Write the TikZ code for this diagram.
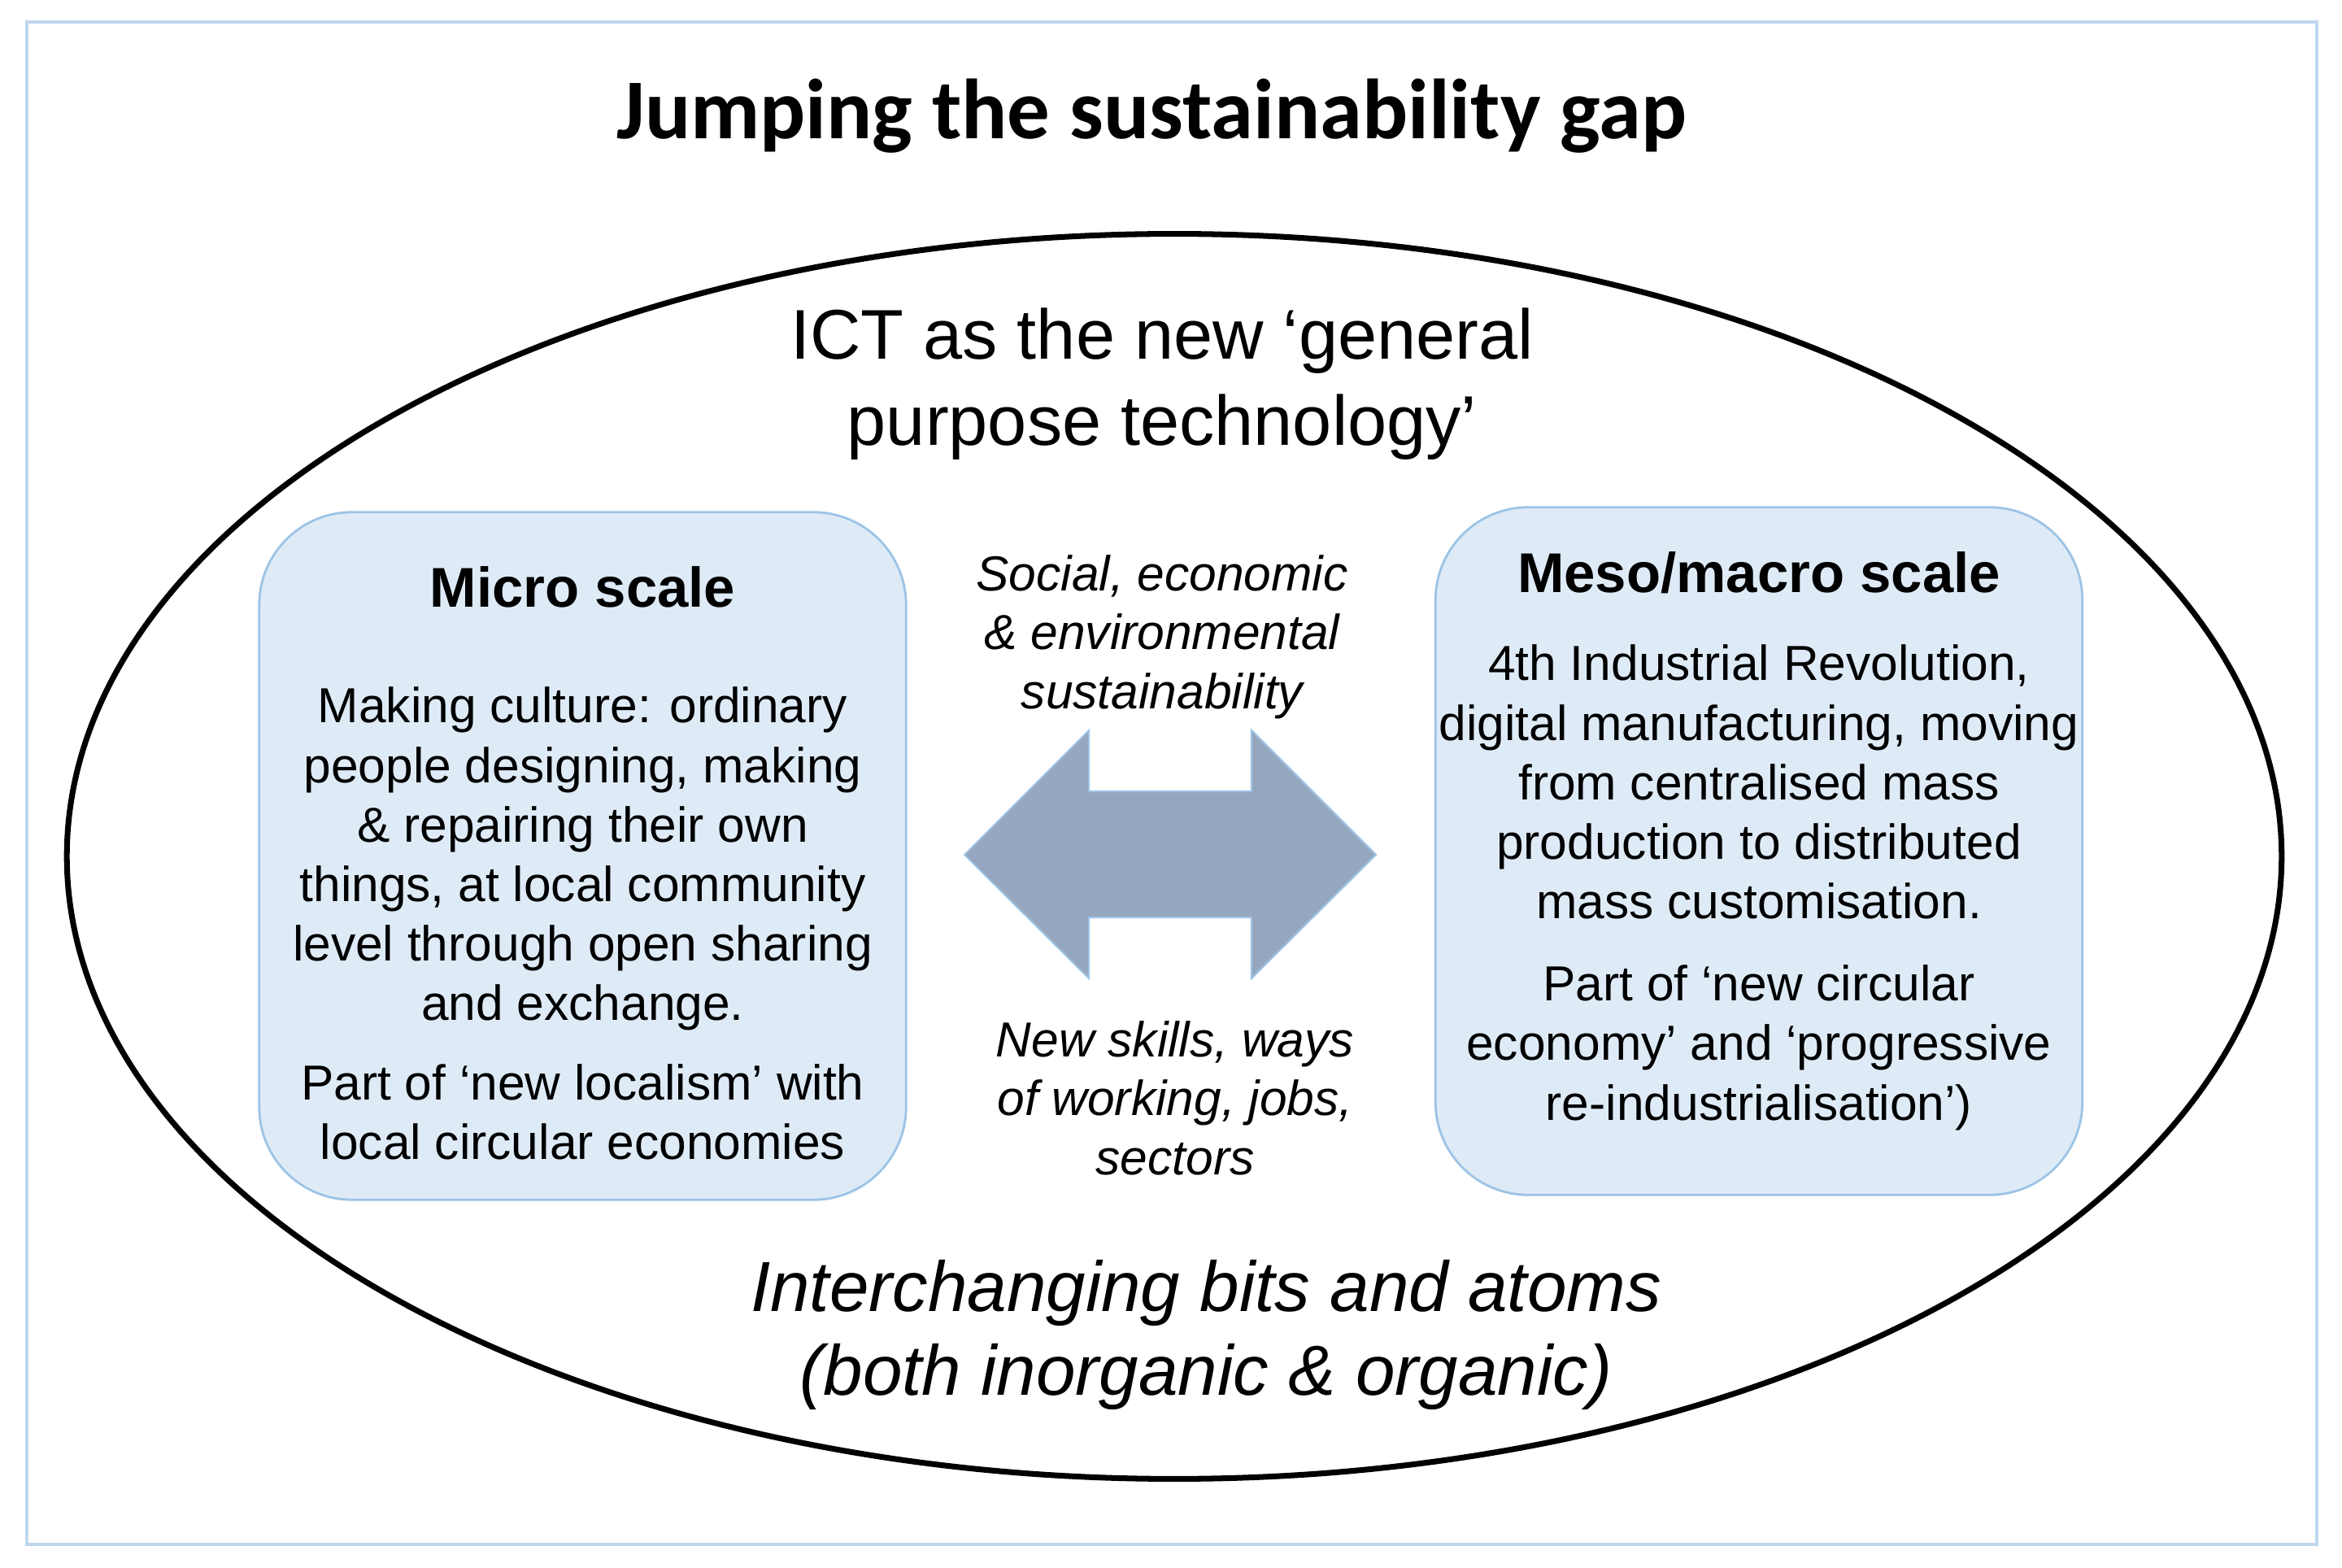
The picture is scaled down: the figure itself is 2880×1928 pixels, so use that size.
\documentclass[tikz,border=0pt]{standalone}
\usepackage{fontspec}
\setmainfont{Liberation Sans}
\newfontfamily\titlefont{Carlito}
\usetikzlibrary{calc}

\definecolor{framecol}{RGB}{189,215,238}
\definecolor{boxfill}{RGB}{222,235,247}
\definecolor{boxline}{RGB}{157,195,230}
\definecolor{arrowfill}{RGB}{149,167,190}

\begin{document}
\begin{tikzpicture}[x=0.01cm, y=-0.01cm,
  scalebox/.style={draw=boxline, fill=boxfill, line width=0.8pt, rounded corners=1.14cm,
    minimum width=7.95cm, minimum height=8.45cm, inner sep=0pt},
  boxhead/.style={font=\fontsize{19.6}{23}\selectfont\bfseries, anchor=base, inner sep=0pt},
  body/.style={font=\fontsize{17.2}{20.8}\selectfont, align=center, anchor=north, inner sep=0pt},
  note/.style={body, font=\fontsize{17.2}{20.6}\selectfont\itshape}]
\useasboundingbox (0,0) rectangle (2880,1928);
\draw[framecol, line width=1pt] (33,27) rectangle (2849,1899);

\node[font=\titlefont\fontsize{29.8}{36}\selectfont\bfseries, anchor=base, inner sep=0pt]
  (title) at (1416,171) {Jumping the sustainability gap};

% the big ellipse
\path (1444,1053) coordinate (centre);
\draw[line width=2pt] (centre) ellipse (13.61cm and 7.65cm);

\node[font=\fontsize{24.6}{30.2}\selectfont, align=center, anchor=north, inner sep=0pt]
  (ict) at (1429,378) {ICT as the new ‘general\\purpose technology’};

% the two scales
\node[scalebox] (micro) at (716.5,1052.5) {};
\node[scalebox] (meso) at (2163,1046.5) {};

\node[boxhead] (microhead) at ($(micro.north)+(0,118)$) {Micro scale};
\node[boxhead] (mesohead) at ($(meso.north)+(0,106)$) {Meso/macro scale};

\node[body] (microtext) at ($(micro.north)+(0,216)$)
  {Making culture: ordinary\\people designing, making\\\& repairing their own\\things, at local community\\level through open sharing\\and exchange.\\[7pt]Part of ‘new localism’ with\\local circular economies};
\node[body] (mesotext) at ($(meso.north)+(0,170)$)
  {4th Industrial Revolution,\\digital manufacturing, moving\\from centralised mass\\production to distributed\\mass customisation.\\[8pt]Part of ‘new circular\\economy’ and ‘progressive\\re-industrialisation’)};

% double arrow between them
\begin{scope}[shift={(1439,1051)}]
\filldraw[fill=arrowfill, draw=boxline, line width=0.6pt]
  (-253,0) -- (-100,-153) -- (-100,-78) -- (100,-78) -- (100,-153) -- (253,0)
  -- (100,152) -- (100,77) -- (-100,77) -- (-100,152) -- cycle;
\end{scope}

\node[note] (sustain) at (1429,682) {Social, economic\\\& environmental\\sustainability};
\node[note] (skills) at (1445,1255) {New skills, ways\\of working, jobs,\\sectors};

\node[font=\fontsize{24.8}{29.3}\selectfont\itshape, align=center, anchor=north, inner sep=0pt]
  (bits) at (1483,1549) {Interchanging bits and atoms\\(both inorganic \& organic)};
\end{tikzpicture}
\end{document}
